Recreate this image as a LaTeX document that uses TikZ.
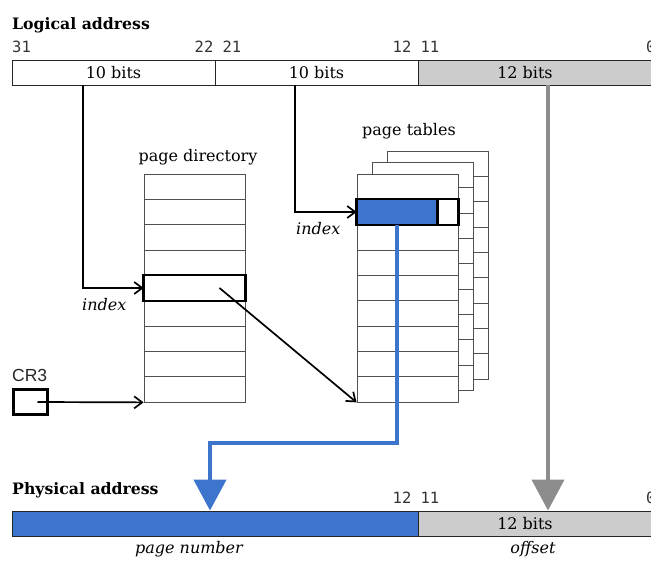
\documentclass[tikz,border=0pt]{standalone}
\usepackage{fontspec}
\setmainfont{DejaVu Serif}
\newfontfamily\monof{DejaVu Sans Mono}
\newfontfamily\sansf{Liberation Sans}
\usetikzlibrary{arrows.meta}
\definecolor{blu}{RGB}{61,117,205}
\definecolor{lgray}{RGB}{204,204,204}
\definecolor{dgray}{RGB}{140,140,140}
\definecolor{lin}{RGB}{80,80,80}
\tikzset{
  field/.style={draw=black!85, line width=0.9pt, inner sep=0pt, minimum height=25pt},
  rowbox/.style={draw=lin, line width=0.8pt, fill=white, minimum width=101pt, minimum height=25.33pt, inner sep=0pt},
  hl/.style={draw=black, line width=2.8pt},
  conn/.style={line width=1.7pt, -{Straight Barb[length=8pt,width=12pt]}},
  lbl/.style={font=\fontsize{16}{16}\selectfont, inner sep=0pt},
  ital/.style={font=\fontsize{16}{16}\selectfont\itshape, inner sep=0pt},
  num/.style={font=\monof\fontsize{15.5}{15.5}\selectfont, text=black!80, inner sep=0pt},
  ttl/.style={font=\bfseries\fontsize{15.7}{16}\selectfont, inner sep=0pt},
  crbox/.style={draw=black, line width=3pt, minimum width=34pt, minimum height=25pt, inner sep=0pt},
  bluearrow/.style={draw=blu, line width=4.5pt, -{Triangle[length=31pt,width=32pt]}},
  grayarrow/.style={draw=dgray, line width=4.2pt, -{Triangle[length=31pt,width=32pt]}}
}
\begin{document}
\begin{tikzpicture}[x=1pt,y=-1pt]
\useasboundingbox (0,0) rectangle (651,560);
\clip (0,0) rectangle (651,560);

% Logical address
\node[ttl, anchor=base west] (lt) at (12,29.3) {Logical address};
\node[num, anchor=base west] (n31) at (12,52) {31};
\node[num, anchor=base] (n2221) at (218,52) {22 21};
\node[num, anchor=base] (n1211) at (416,52) {12 11};
\node[num, anchor=base west] (n0) at (646,52) {0};

\node[field, minimum width=203pt] (la1) at (113.5,72.5) {};
\node[field, minimum width=203pt] (la2) at (316.5,72.5) {};
\node[field, fill=lgray, minimum width=250pt, anchor=west] (la3) at (418,72.5) {};
\node[lbl] (la1t) at (la1.center) {10 bits};
\node[lbl] (la2t) at (la2.center) {10 bits};
\node[lbl] (la3t) at (525,72.5) {12 bits};

% page directory
\node[lbl, anchor=base] (pdl) at (198,161) {page directory};
\foreach \i in {1,...,9} \node[rowbox] (pd\i) at (194.5,{174+25.33*(\i-0.5)}) {};
\draw[hl] (pd5.north west) rectangle (pd5.south east);

% page tables (back to front)
\node[lbl, anchor=base] (ptl) at (409,135) {page tables};
\foreach \i in {1,...,9} \node[rowbox] (tc\i) at (437.5,{151+25.33*(\i-0.5)}) {};
\foreach \i in {1,...,9} \node[rowbox] (tb\i) at (422.5,{162.5+25.33*(\i-0.5)}) {};
\foreach \i in {1,...,9} \node[rowbox] (pt\i) at (407.5,{174+25.33*(\i-0.5)}) {};
\fill[blu] (pt2.north west) rectangle ([xshift=-21pt]pt2.south east);
\draw[hl] (pt2.north west) rectangle (pt2.south east);
\draw[hl] ([xshift=-21pt]pt2.north east) -- ([xshift=-21pt]pt2.south east);

% CR3
\node[font=\sansf\fontsize{17.5}{17.5}\selectfont, text=black!85, inner sep=0pt, anchor=base west] (crl) at (12,381) {CR3};
\node[crbox] (cr3) at (30.5,402) {};

% connectors
\coordinate (k1) at (83,0);
\coordinate (k2) at (295,0);
\draw[conn] (la1.south -| k1) |- (pd5.west);
\node[ital, anchor=base west] (ix1) at (82,310) {index};
\draw[conn] (la2.south -| k2) |- (pt2.west);
\node[ital, anchor=base west] (ix2) at (296,234) {index};
\draw[conn] ([xshift=25pt]pd5.center) -- (pt9.south west);
\draw[conn] ([xshift=7pt]cr3.center) -- (pd9.south west);

% Physical address
\node[ttl, anchor=base west] (pt) at (12,494) {Physical address};
\node[num, anchor=base] (m1211) at (416,503) {12 11};
\node[num, anchor=base west] (m0) at (646,503) {0};
\node[field, fill=blu, minimum width=406pt] (pa1) at (215,523.5) {};
\node[field, fill=lgray, minimum width=250pt, anchor=west] (pa2) at (418,523.5) {};
\node[lbl] (pa2t) at (525,523.5) {12 bits};
\node[ital, anchor=base] (pnl) at (189,553) {page number};
\node[ital, anchor=base] (ofl) at (533,553) {offset};

% blue and gray arrows
\coordinate (b1) at (397,0);
\coordinate (b2) at (210,443);
\draw[bluearrow] (pt2.south -| b1) |- (b2) -- (pa1.north -| b2);
\coordinate (g1) at (548,0);
\draw[grayarrow] (la3.south -| g1) -- (pa2.north -| g1);
\end{tikzpicture}
\end{document}
